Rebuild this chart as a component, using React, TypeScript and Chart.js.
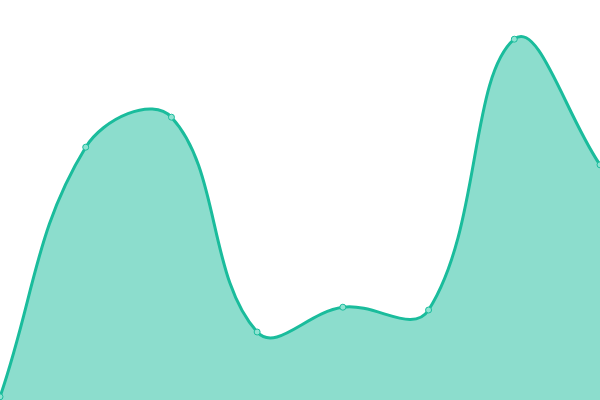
import React, { useRef, useEffect } from 'react';
import { Chart, ChartConfiguration, registerables } from 'chart.js';

Chart.register(...registerables);

const labels = ['1', '2', '3', '4', '5', '6', '7', '8'];
const values = [0.8, 63.2, 70.7, 17, 23.2, 22.5, 90.2, 58.8];

const lineColor = '#1abc9c';
const fillColor = 'rgba(26, 188, 156, 0.5)';

export default function App() {
  const canvasRef = useRef<HTMLCanvasElement>(null);
  const chartRef = useRef<Chart | null>(null);

  useEffect(() => {
    document.body.style.margin = '0';
    if (!canvasRef.current) return;
    if (chartRef.current) chartRef.current.destroy();

    const config: ChartConfiguration = {
      type: 'line',
      data: {
        labels,
        datasets: [{
          data: values,
          borderColor: lineColor,
          backgroundColor: fillColor,
          borderWidth: 3,
          fill: true,
          tension: 0.4,
          pointRadius: 3,
          pointBorderWidth: 1,
          pointBackgroundColor: '#8fe3d2',
          pointBorderColor: lineColor,
        }]
      },
      options: {
        animation: false,
        responsive: true,
        maintainAspectRatio: false,
        layout: { padding: 0, autoPadding: false },
        plugins: {
          legend: { display: false },
          tooltip: { enabled: false }
        },
        scales: {
          x: { display: false, offset: false },
          y: { display: false, min: 0, max: 100 }
        }
      }
    };

    chartRef.current = new Chart(canvasRef.current, config);

    return () => {
      if (chartRef.current) {
        chartRef.current.destroy();
        chartRef.current = null;
      }
    };
  }, []);

  return (
    <div style={{ width: '600px', height: '400px', position: 'relative' }}>
      <canvas ref={canvasRef} />
    </div>
  );
}
